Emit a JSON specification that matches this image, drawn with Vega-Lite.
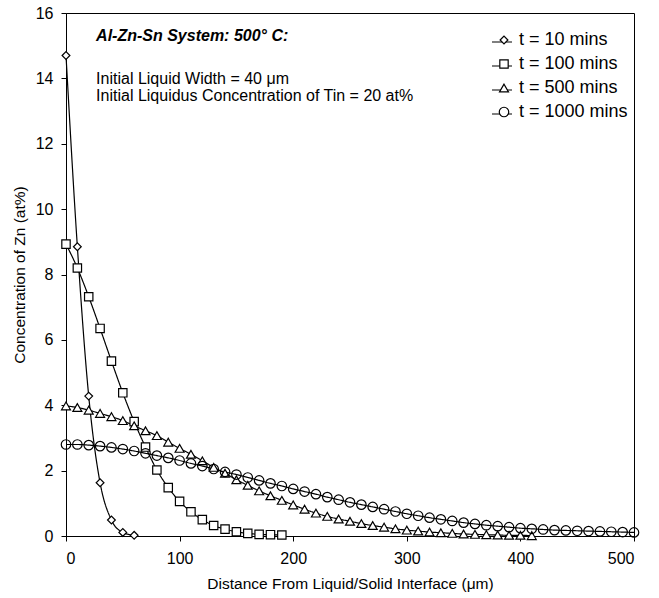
{
  "$schema": "https://vega.github.io/schema/vega-lite/v6.json",
  "autosize": "none",
  "padding": {"left": 66, "top": 13, "right": 25, "bottom": 62},
  "width": 568,
  "height": 523,
  "background": "white",
  "config": {
    "view": {"stroke": "#000", "strokeWidth": 1},
    "font": "Liberation Sans",
    "axis": {
      "grid": false,
      "domainColor": "#000",
      "tickColor": "#000",
      "labelColor": "#000",
      "titleColor": "#000",
      "labelFont": "Liberation Sans",
      "titleFont": "Liberation Sans",
      "labelFontSize": 16,
      "titleFontSize": 15.5,
      "titleFontWeight": "normal",
      "tickSize": 5
    }
  },
  "datasets": {
    "profiles": [
      {"t": "t = 10 mins", "x": 0, "c": 14.7},
      {"t": "t = 10 mins", "x": 10, "c": 8.85},
      {"t": "t = 10 mins", "x": 20, "c": 4.28},
      {"t": "t = 10 mins", "x": 30, "c": 1.63},
      {"t": "t = 10 mins", "x": 40, "c": 0.49},
      {"t": "t = 10 mins", "x": 50, "c": 0.11},
      {"t": "t = 10 mins", "x": 60, "c": 0.02},
      {"t": "t = 100 mins", "x": 0, "c": 8.93},
      {"t": "t = 100 mins", "x": 10, "c": 8.2},
      {"t": "t = 100 mins", "x": 20, "c": 7.32},
      {"t": "t = 100 mins", "x": 30, "c": 6.35},
      {"t": "t = 100 mins", "x": 40, "c": 5.35},
      {"t": "t = 100 mins", "x": 50, "c": 4.38},
      {"t": "t = 100 mins", "x": 60, "c": 3.5},
      {"t": "t = 100 mins", "x": 70, "c": 2.72},
      {"t": "t = 100 mins", "x": 80, "c": 2.02},
      {"t": "t = 100 mins", "x": 90, "c": 1.48},
      {"t": "t = 100 mins", "x": 100, "c": 1.06},
      {"t": "t = 100 mins", "x": 110, "c": 0.74},
      {"t": "t = 100 mins", "x": 120, "c": 0.5},
      {"t": "t = 100 mins", "x": 130, "c": 0.32},
      {"t": "t = 100 mins", "x": 140, "c": 0.21},
      {"t": "t = 100 mins", "x": 150, "c": 0.13},
      {"t": "t = 100 mins", "x": 160, "c": 0.08},
      {"t": "t = 100 mins", "x": 170, "c": 0.05},
      {"t": "t = 100 mins", "x": 180, "c": 0.04},
      {"t": "t = 100 mins", "x": 190, "c": 0.03},
      {"t": "t = 500 mins", "x": 0, "c": 3.98},
      {"t": "t = 500 mins", "x": 10, "c": 3.93},
      {"t": "t = 500 mins", "x": 20, "c": 3.85},
      {"t": "t = 500 mins", "x": 30, "c": 3.75},
      {"t": "t = 500 mins", "x": 40, "c": 3.65},
      {"t": "t = 500 mins", "x": 50, "c": 3.53},
      {"t": "t = 500 mins", "x": 60, "c": 3.37},
      {"t": "t = 500 mins", "x": 70, "c": 3.22},
      {"t": "t = 500 mins", "x": 80, "c": 3.07},
      {"t": "t = 500 mins", "x": 90, "c": 2.87},
      {"t": "t = 500 mins", "x": 100, "c": 2.68},
      {"t": "t = 500 mins", "x": 110, "c": 2.5},
      {"t": "t = 500 mins", "x": 120, "c": 2.3},
      {"t": "t = 500 mins", "x": 130, "c": 2.1},
      {"t": "t = 500 mins", "x": 140, "c": 1.92},
      {"t": "t = 500 mins", "x": 150, "c": 1.72},
      {"t": "t = 500 mins", "x": 160, "c": 1.55},
      {"t": "t = 500 mins", "x": 170, "c": 1.38},
      {"t": "t = 500 mins", "x": 180, "c": 1.23},
      {"t": "t = 500 mins", "x": 190, "c": 1.09},
      {"t": "t = 500 mins", "x": 200, "c": 0.95},
      {"t": "t = 500 mins", "x": 210, "c": 0.82},
      {"t": "t = 500 mins", "x": 220, "c": 0.7},
      {"t": "t = 500 mins", "x": 230, "c": 0.6},
      {"t": "t = 500 mins", "x": 240, "c": 0.52},
      {"t": "t = 500 mins", "x": 250, "c": 0.45},
      {"t": "t = 500 mins", "x": 260, "c": 0.38},
      {"t": "t = 500 mins", "x": 270, "c": 0.32},
      {"t": "t = 500 mins", "x": 280, "c": 0.27},
      {"t": "t = 500 mins", "x": 290, "c": 0.22},
      {"t": "t = 500 mins", "x": 300, "c": 0.18},
      {"t": "t = 500 mins", "x": 310, "c": 0.15},
      {"t": "t = 500 mins", "x": 320, "c": 0.12},
      {"t": "t = 500 mins", "x": 330, "c": 0.1},
      {"t": "t = 500 mins", "x": 340, "c": 0.08},
      {"t": "t = 500 mins", "x": 350, "c": 0.06},
      {"t": "t = 500 mins", "x": 360, "c": 0.05},
      {"t": "t = 500 mins", "x": 370, "c": 0.04},
      {"t": "t = 500 mins", "x": 380, "c": 0.03},
      {"t": "t = 500 mins", "x": 390, "c": 0.02},
      {"t": "t = 500 mins", "x": 400, "c": 0.02},
      {"t": "t = 500 mins", "x": 410, "c": 0.01},
      {"t": "t = 1000 mins", "x": 0, "c": 2.8},
      {"t": "t = 1000 mins", "x": 10, "c": 2.8},
      {"t": "t = 1000 mins", "x": 20, "c": 2.78},
      {"t": "t = 1000 mins", "x": 30, "c": 2.75},
      {"t": "t = 1000 mins", "x": 40, "c": 2.71},
      {"t": "t = 1000 mins", "x": 50, "c": 2.66},
      {"t": "t = 1000 mins", "x": 60, "c": 2.6},
      {"t": "t = 1000 mins", "x": 70, "c": 2.53},
      {"t": "t = 1000 mins", "x": 80, "c": 2.46},
      {"t": "t = 1000 mins", "x": 90, "c": 2.39},
      {"t": "t = 1000 mins", "x": 100, "c": 2.31},
      {"t": "t = 1000 mins", "x": 110, "c": 2.22},
      {"t": "t = 1000 mins", "x": 120, "c": 2.14},
      {"t": "t = 1000 mins", "x": 130, "c": 2.05},
      {"t": "t = 1000 mins", "x": 140, "c": 1.96},
      {"t": "t = 1000 mins", "x": 150, "c": 1.88},
      {"t": "t = 1000 mins", "x": 160, "c": 1.79},
      {"t": "t = 1000 mins", "x": 170, "c": 1.7},
      {"t": "t = 1000 mins", "x": 180, "c": 1.61},
      {"t": "t = 1000 mins", "x": 190, "c": 1.53},
      {"t": "t = 1000 mins", "x": 200, "c": 1.44},
      {"t": "t = 1000 mins", "x": 210, "c": 1.36},
      {"t": "t = 1000 mins", "x": 220, "c": 1.28},
      {"t": "t = 1000 mins", "x": 230, "c": 1.19},
      {"t": "t = 1000 mins", "x": 240, "c": 1.11},
      {"t": "t = 1000 mins", "x": 250, "c": 1.03},
      {"t": "t = 1000 mins", "x": 260, "c": 0.96},
      {"t": "t = 1000 mins", "x": 270, "c": 0.89},
      {"t": "t = 1000 mins", "x": 280, "c": 0.82},
      {"t": "t = 1000 mins", "x": 290, "c": 0.75},
      {"t": "t = 1000 mins", "x": 300, "c": 0.68},
      {"t": "t = 1000 mins", "x": 310, "c": 0.62},
      {"t": "t = 1000 mins", "x": 320, "c": 0.56},
      {"t": "t = 1000 mins", "x": 330, "c": 0.51},
      {"t": "t = 1000 mins", "x": 340, "c": 0.46},
      {"t": "t = 1000 mins", "x": 350, "c": 0.41},
      {"t": "t = 1000 mins", "x": 360, "c": 0.37},
      {"t": "t = 1000 mins", "x": 370, "c": 0.33},
      {"t": "t = 1000 mins", "x": 380, "c": 0.3},
      {"t": "t = 1000 mins", "x": 390, "c": 0.27},
      {"t": "t = 1000 mins", "x": 400, "c": 0.24},
      {"t": "t = 1000 mins", "x": 410, "c": 0.22},
      {"t": "t = 1000 mins", "x": 420, "c": 0.2},
      {"t": "t = 1000 mins", "x": 430, "c": 0.18},
      {"t": "t = 1000 mins", "x": 440, "c": 0.17},
      {"t": "t = 1000 mins", "x": 450, "c": 0.16},
      {"t": "t = 1000 mins", "x": 460, "c": 0.15},
      {"t": "t = 1000 mins", "x": 470, "c": 0.14},
      {"t": "t = 1000 mins", "x": 480, "c": 0.13},
      {"t": "t = 1000 mins", "x": 490, "c": 0.12},
      {"t": "t = 1000 mins", "x": 500, "c": 0.11}
    ],
    "notes": [
      {"x": 26.5, "c": 15.14, "label": "Al-Zn-Sn System: 500° C:", "kind": "title"},
      {"x": 26.5, "c": 13.83, "label": "Initial Liquid Width = 40 μm", "kind": "body"},
      {"x": 26.5, "c": 13.3, "label": "Initial Liquidus Concentration of Tin = 20 at%", "kind": "body"}
    ]
  },
  "layer": [
    {
      "data": {"name": "profiles"},
      "mark": {"type": "line", "color": "#000", "strokeWidth": 1.2, "interpolate": "monotone"},
      "encoding": {
        "x": {
          "field": "x", "type": "quantitative",
          "scale": {"domain": [0, 500], "nice": false},
          "axis": {"values": [0, 100, 200, 300, 400, 500], "title": "Distance From Liquid/Solid Interface (μm)", "labelPadding": 9, "titlePadding": 10}
        },
        "y": {
          "field": "c", "type": "quantitative",
          "scale": {"domain": [0, 16], "nice": false},
          "axis": {"values": [0, 2, 4, 6, 8, 10, 12, 14, 16], "title": "Concentration of  Zn (at%)", "labelPadding": 8, "titlePadding": 8}
        },
        "strokeDash": {
          "field": "t", "type": "nominal",
          "scale": {"domain": ["t = 10 mins", "t = 100 mins", "t = 500 mins", "t = 1000 mins", "-"], "range": [[1, 0], [1, 0], [1, 0], [1, 0], [1, 0]]},
          "legend": {
            "values": ["t = 10 mins", "t = 100 mins", "t = 500 mins", "t = 1000 mins"],
            "orient": "none",
            "legendX": 425,
            "legendY": 18,
            "title": null,
            "padding": 0,
            "symbolType": "stroke",
            "symbolSize": 400,
            "symbolStrokeColor": "#000",
            "symbolStrokeWidth": 1.2,
            "labelFont": "Liberation Sans",
            "labelFontSize": 18,
            "labelExpr": "''",
            "labelColor": "transparent",
            "labelOffset": 2,
            "rowPadding": 4
          }
        }
      }
    },
    {
      "data": {"name": "profiles"},
      "mark": {"type": "point", "filled": false, "stroke": "#000", "strokeWidth": 1.2, "opacity": 1},
      "encoding": {
        "x": {"field": "x", "type": "quantitative"},
        "y": {"field": "c", "type": "quantitative"},
        "shape": {
          "field": "t", "type": "nominal",
          "scale": {"domain": ["t = 10 mins", "t = 100 mins", "t = 500 mins", "t = 1000 mins"], "range": ["diamond", "square", "triangle-up", "circle"]},
          "legend": {
            "orient": "none",
            "legendX": 429,
            "legendY": 18,
            "title": null,
            "padding": 0,
            "symbolStrokeColor": "#000",
            "symbolFillColor": "#fff",
            "symbolStrokeWidth": 1.2,
            "symbolOpacity": 1,
            "labelFont": "Liberation Sans",
            "labelFontSize": 18,
            "labelColor": "#000",
            "labelOffset": 6,
            "rowPadding": 6
          }
        },
        "size": {
          "field": "t", "type": "nominal",
          "scale": {"domain": ["t = 10 mins", "t = 100 mins", "t = 500 mins", "t = 1000 mins"], "range": [60, 90, 95, 70]}
        },
        "fill": {
          "condition": {"test": "datum.t === 't = 1000 mins'", "value": "transparent"},
          "value": "#fff"
        }
      }
    },
    {
      "data": {"name": "notes"},
      "transform": [{"filter": "datum.kind === 'title'"}],
      "mark": {"type": "text", "align": "left", "baseline": "alphabetic", "font": "Liberation Sans", "fontSize": 16, "fontWeight": "bold", "fontStyle": "italic", "color": "#000"},
      "encoding": {
        "x": {"field": "x", "type": "quantitative"},
        "y": {"field": "c", "type": "quantitative"},
        "text": {"field": "label"}
      }
    },
    {
      "data": {"name": "notes"},
      "transform": [{"filter": "datum.kind === 'body'"}],
      "mark": {"type": "text", "align": "left", "baseline": "alphabetic", "font": "Liberation Sans", "fontSize": 16, "color": "#000"},
      "encoding": {
        "x": {"field": "x", "type": "quantitative"},
        "y": {"field": "c", "type": "quantitative"},
        "text": {"field": "label"}
      }
    }
  ]
}
